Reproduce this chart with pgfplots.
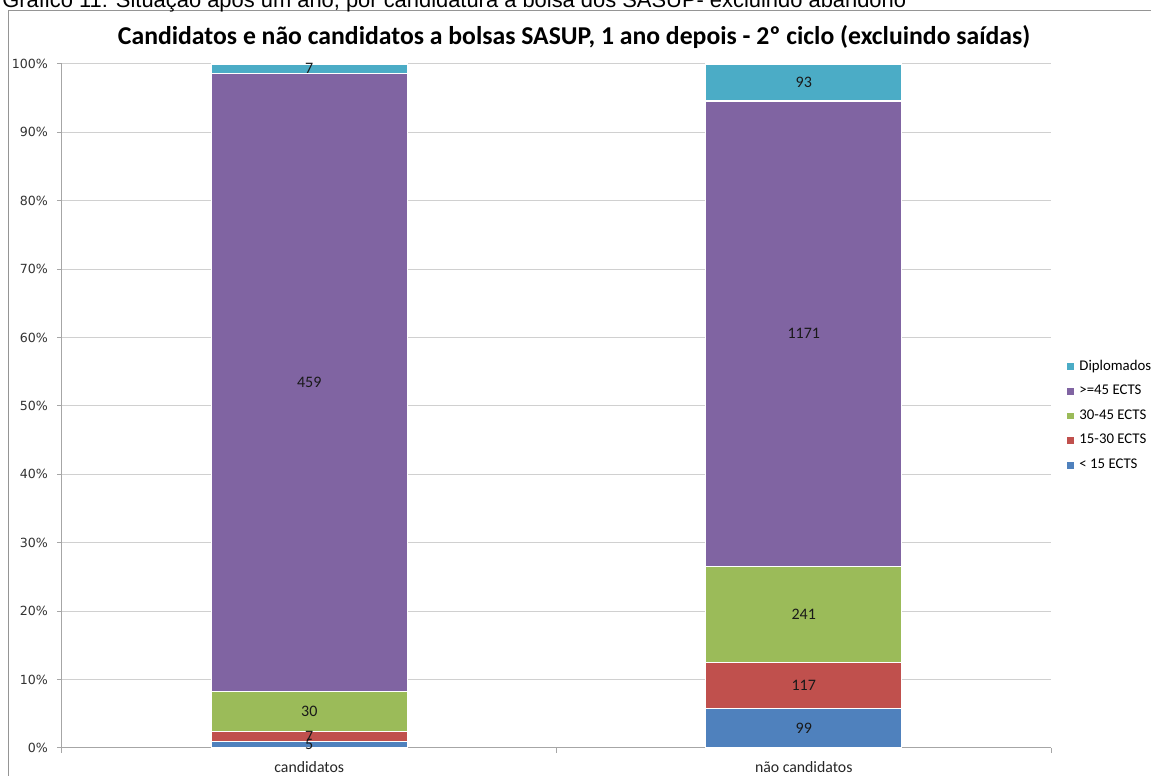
\documentclass[border=0pt]{standalone}
\usepackage{pgfplots}
\pgfplotsset{compat=1.18}
\usepackage{fontspec}
\setmainfont{Carlito}
\newfontfamily\dejavu{DejaVu Sans}
\newfontfamily\arialf{Liberation Sans}
\definecolor{cBlue}{HTML}{4F81BD}
\definecolor{cRed}{HTML}{C0504D}
\definecolor{cGreen}{HTML}{9BBB59}
\definecolor{cPurple}{HTML}{8064A2}
\definecolor{cTeal}{HTML}{4BACC6}
\definecolor{gridc}{HTML}{D0D0D0}
\definecolor{axc}{HTML}{A6A6A6}
\begin{document}
\begin{tikzpicture}
\useasboundingbox (0,0) rectangle (575.5pt,388pt);
\clip (0,0) rectangle (575.5pt,388pt);
\draw[color=axc!90!black, line width=0.5pt] (4pt,-5pt) rectangle (620pt,382.75pt);
\node[anchor=base west, inner sep=0pt, font=\arialf\fontsize{10.95pt}{12pt}\selectfont] at (1pt,384.3pt) {Gráfico 11: Situação após um ano, por candidatura à bolsa dos SASUP- excluindo abandono};
\node[font=\bfseries\fontsize{12.85pt}{14pt}\selectfont] at (287pt,369.5pt) {Candidatos e não candidatos a bolsas SASUP, 1 ano depois - 2º ciclo (excluindo saídas)};
\begin{axis}[
  at={(31pt,14pt)}, anchor=south west,
  scale only axis, width=494.5pt, height=342pt,
  ybar stacked, bar width=98pt,
  xmin=-0.5, xmax=1.5, ymin=0, ymax=100,
  clip=false,
  axis lines*=left,
  axis line style={color=axc, line width=0.5pt},
  xtick={0,1}, xticklabels={candidatos, não candidatos},
  major x tick style={draw=none},
  minor xtick={-0.5,0.5,1.5},
  minor x tick style={color=axc, line width=0.5pt},
  minor tick length=2.5pt,
  major tick length=2.5pt,
  tick align=outside,
  y tick style={color=axc, line width=0.5pt},
  ytick={0,10,...,100},
  /pgf/number format/assume math mode=true,
  yticklabel={\pgfmathprintnumber{\tick}\%},
  yticklabel style={font=\dejavu\fontsize{6.3pt}{7pt}\selectfont, color=black!80, xshift=-1pt},
  xticklabel style={font=\fontsize{7.9pt}{9pt}\selectfont, color=black!85, yshift=-0.5pt},
  ymajorgrids, grid style={color=gridc, line width=0.5pt},
  reverse legend,
  legend style={at={(1.013,0.486)}, anchor=west, draw=none, fill=none,
    font=\fontsize{7.4pt}{8.5pt}\selectfont, row sep=2pt, inner sep=1pt,
    /tikz/every even column/.append style={column sep=0pt}},
  legend image code/.code={\fill[#1] (0pt,-2pt) rectangle (4pt,2pt);},
  legend cell align=left,
]
\addplot[fill=cBlue, draw=white, line width=0.6pt] coordinates {(0,0.9843) (1,5.7525)};
\addplot[fill=cRed, draw=white, line width=0.6pt] coordinates {(0,1.3780) (1,6.7984)};
\addplot[fill=cGreen, draw=white, line width=0.6pt] coordinates {(0,5.9055) (1,14.0035)};
\addplot[fill=cPurple, draw=white, line width=0.6pt] coordinates {(0,90.3543) (1,68.0418)};
\addplot[fill=cTeal, draw=white, line width=0.6pt] coordinates {(0,1.3780) (1,5.4039)};
\legend{{< 15 ECTS},{15-30 ECTS},{30-45 ECTS},{>=45 ECTS},{Diplomados}}
\end{axis}
\begin{axis}[
  at={(31pt,14pt)}, anchor=south west,
  scale only axis, width=494.5pt, height=342pt,
  xmin=-0.5, xmax=1.5, ymin=0, ymax=100,
  hide axis, clip=false,
]
\addplot[draw=none, mark=none, nodes near coords, point meta=explicit symbolic,
  every node near coord/.append style={anchor=center, inner sep=0pt, font=\fontsize{8pt}{9pt}\selectfont, color=black!90}]
  coordinates {(0,0.49)[5] (0,1.67)[7] (0,5.31)[30] (0,53.44)[459] (0,99.31)[7]
               (1,2.88)[99] (1,9.15)[117] (1,19.55)[241] (1,60.58)[1171] (1,97.30)[93]};
\end{axis}
\end{tikzpicture}
\end{document}
